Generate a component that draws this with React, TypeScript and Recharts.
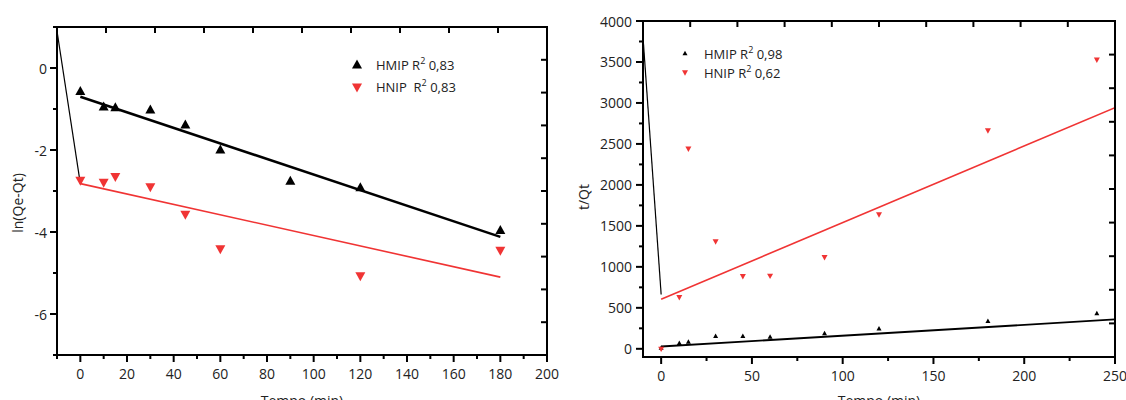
import React from 'react';
import { ComposedChart, XAxis, YAxis, Line, Scatter, Legend, Label } from 'recharts';

const FONT = '"Open Sans", "Noto Sans", sans-serif';
const INK = '#222';
const RED = '#f03434';

// ---- left panel: ln(Qe-Qt) vs tempo ----
const tempoHmipA = [0, 10, 15, 30, 45, 60, 90, 120, 180];
const hmipLn = [-0.57, -0.95, -0.97, -1.02, -1.39, -2.0, -2.76, -2.92, -3.96];
const tempoHnipA = [0, 10, 15, 30, 45, 60, 120, 180];
const hnipLn = [-2.74, -2.79, -2.65, -2.9, -3.57, -4.41, -5.07, -4.45];
const fitTempoA = [0, 180];
const hmipLnFit = [-0.7, -4.12];
const hnipLnFit = [-2.82, -5.1];
const strayTempoA = [-10, 0];
const strayLn = [0.9, -2.82];
const xTicksA = [-10, 0, 10, 20, 30, 40, 50, 60, 70, 80, 90, 100, 110, 120, 130, 140, 150, 160, 170, 180, 190, 200];
const yTicksA = [-7, -6, -5, -4, -3, -2, -1, 0, 1];

// ---- right panel: t/Qt vs tempo ----
const tempoB = [0, 10, 15, 30, 45, 60, 90, 120, 180, 240];
const hmipTQ = [10, 68, 85, 154, 154, 146, 187, 244, 337, 431];
const hnipTQ = [0, 630, 2442, 1310, 886, 891, 1118, 1640, 2665, 3528];
const fitTempoB = [0, 250];
const hmipTQFit = [28, 358];
const hnipTQFit = [605, 2943];
const strayTempoB = [-10, 0];
const strayTQ = [3805, 663];
const xTicksB = [0, 25, 50, 75, 100, 125, 150, 175, 200, 225, 250];
const yTicksB = [0, 250, 500, 750, 1000, 1250, 1500, 1750, 2000, 2250, 2500, 2750, 3000, 3250, 3500, 3750, 4000];

const pts = (xs: number[], ys: number[]) => xs.map((x, i) => ({ x, y: ys[i] }));

const upTri = (w: number, color: string) => (props: any) => {
  const { cx, cy } = props;
  if (cx == null || cy == null) return <g />;
  const h = w * 0.9;
  return <polygon points={`${cx},${cy - h * 0.6} ${cx - w / 2},${cy + h * 0.4} ${cx + w / 2},${cy + h * 0.4}`} fill={color} />;
};

const downTri = (w: number, color: string) => (props: any) => {
  const { cx, cy } = props;
  if (cx == null || cy == null) return <g />;
  const h = w * 0.9;
  return <polygon points={`${cx - w / 2},${cy - h * 0.4} ${cx + w / 2},${cy - h * 0.4} ${cx},${cy + h * 0.6}`} fill={color} />;
};

const xTick = (majorStep: number) => (props: any) => {
  const { x, y, payload } = props;
  const v = payload.value;
  const major = v % majorStep === 0 && v >= 0;
  return (
    <g>
      <line x1={x} x2={x} y1={y} y2={y + (major ? 7 : 4)} stroke="#000" strokeWidth={2} />
      {major && (
        <text x={x} y={y + 18} textAnchor="middle" dominantBaseline="central" fontSize={14} fontFamily={FONT} fill={INK}>
          {v}
        </text>
      )}
    </g>
  );
};

const yTick = (majorStep: number, gap: number) => (props: any) => {
  const { x, y, payload } = props;
  const v = payload.value;
  const major = v % majorStep === 0;
  return (
    <g>
      <line x1={x - (major ? 7 : 4)} x2={x} y1={y} y2={y} stroke="#000" strokeWidth={2} />
      {major && (
        <text x={x - 7 - gap} y={y} textAnchor="end" dominantBaseline="central" fontSize={14} fontFamily={FONT} fill={INK}>
          {v}
        </text>
      )}
    </g>
  );
};

const legendContent = (rows: { label: string; r2: string; up: boolean; color: string; size: number }[], rowH: number) => () => (
  <div style={{ fontFamily: FONT, fontSize: 13, color: INK }}>
    {rows.map((r) => (
      <div key={r.label} style={{ display: 'flex', alignItems: 'center', height: rowH, whiteSpace: 'pre' }}>
        <svg width={20} height={rowH} style={{ display: 'block' }}>
          {r.up
            ? upTri(r.size, r.color)({ cx: 10, cy: rowH / 2 })
            : downTri(r.size, r.color)({ cx: 10, cy: rowH / 2 })}
        </svg>
        <span style={{ marginLeft: 9 }}>
          {r.label}R<sup style={{ fontSize: 9, verticalAlign: 6, lineHeight: 0 }}>2</sup> {r.r2}
        </span>
      </div>
    ))}
  </div>
);

const axisTitle = (text: string, dx: number, dy: number) => (p: any) => {
  const vb = p.viewBox || { x: 0, y: 0, height: 0 };
  const cx = vb.x + dx;
  const cy = vb.y + vb.height / 2 + dy;
  return (
    <text x={cx} y={cy} transform={`rotate(-90 ${cx} ${cy})`} textAnchor="middle" dominantBaseline="central" fontFamily={FONT} fontSize={14} fill={INK}>
      {text}
    </text>
  );
};

// plot box outline with inward ticks on the top and right sides (ten equal divisions)
function Frame({ x, y, w, h }: { x: number; y: number; w: number; h: number }) {
  const divs = [1, 2, 3, 4, 5, 6, 7, 8, 9];
  return (
    <svg width={w + 4} height={h + 4} style={{ position: 'absolute', left: x - 2, top: y - 2, pointerEvents: 'none', overflow: 'visible' }}>
      <rect x={2} y={2} width={w} height={h} fill="none" stroke="#000" strokeWidth={2} />
      {divs.map((i) => (
        <line key={`t${i}`} x1={2 + (w * i) / 10} x2={2 + (w * i) / 10} y1={2} y2={8} stroke="#000" strokeWidth={2} />
      ))}
      {divs.map((i) => (
        <line key={`r${i}`} x1={2 + w - 6} x2={2 + w} y1={2 + (h * i) / 10} y2={2 + (h * i) / 10} stroke="#000" strokeWidth={2} />
      ))}
    </svg>
  );
}

function LeftPanel() {
  return (
    <div style={{ position: 'relative', width: 560, height: 400 }}>
      <ComposedChart width={560} height={400} margin={{ top: 27, right: 13, bottom: 15, left: 0 }}>
        <XAxis dataKey="x" type="number" domain={[-10, 200]} ticks={xTicksA} interval={0} height={30}
          tickSize={0} tickMargin={0} tickLine={false} tick={xTick(20)} axisLine={{ stroke: '#000', strokeWidth: 2 }} allowDataOverflow>
          <Label value="Tempo (min)" position="bottom" offset={11} style={{ fontFamily: FONT, fontSize: 14, fill: INK }} />
        </XAxis>
        <YAxis type="number" domain={[-7, 1]} ticks={yTicksA} interval={0} width={57}
          tickSize={0} tickMargin={0} tickLine={false} tick={yTick(2, 3)} axisLine={{ stroke: '#000', strokeWidth: 2 }} allowDataOverflow>
          <Label content={axisTitle('ln(Qe-Qt)', 17, 12)} />
        </YAxis>
        <Line data={pts(strayTempoA, strayLn)} dataKey="y" type="linear" stroke="#000" strokeWidth={1.2} dot={false} isAnimationActive={false} legendType="none" />
        <Line data={pts(fitTempoA, hmipLnFit)} dataKey="y" type="linear" stroke="#000" strokeWidth={2.5} dot={false} isAnimationActive={false} legendType="none" />
        <Line data={pts(fitTempoA, hnipLnFit)} dataKey="y" type="linear" stroke={RED} strokeWidth={1.6} dot={false} isAnimationActive={false} legendType="none" />
        <Scatter data={pts(tempoHmipA, hmipLn)} dataKey="y" name="HMIP" shape={upTri(10, '#000')} isAnimationActive={false} />
        <Scatter data={pts(tempoHnipA, hnipLn)} dataKey="y" name="HNIP" shape={downTri(10, RED)} isAnimationActive={false} />
        <Legend layout="vertical" align="center" verticalAlign="middle"
          wrapperStyle={{ left: 347, top: 54, width: 190, height: 44 }}
          content={legendContent([
            { label: 'HMIP ', r2: '0,83', up: true, color: '#000', size: 10 },
            { label: 'HNIP  ', r2: '0,83', up: false, color: RED, size: 10 },
          ], 22)} />
      </ComposedChart>
      <Frame x={57} y={27} w={490} h={328} />
    </div>
  );
}

function RightPanel() {
  return (
    <div style={{ position: 'relative', width: 566, height: 400 }}>
      <ComposedChart width={566} height={400} margin={{ top: 21, right: 11, bottom: 13, left: 0 }}>
        <XAxis dataKey="x" type="number" domain={[-10, 250]} ticks={xTicksB} interval={0} height={30}
          tickSize={0} tickMargin={0} tickLine={false} tick={xTick(50)} axisLine={{ stroke: '#000', strokeWidth: 2 }} allowDataOverflow>
          <Label value="Tempo (min)" position="bottom" offset={9} style={{ fontFamily: FONT, fontSize: 14, fill: INK }} />
        </XAxis>
        <YAxis type="number" domain={[-100, 4000]} ticks={yTicksB} interval={0} width={83}
          tickSize={0} tickMargin={0} tickLine={false} tick={yTick(500, 4)} axisLine={{ stroke: '#000', strokeWidth: 2 }} allowDataOverflow>
          <Label content={axisTitle('t/Qt', 23, 8)} />
        </YAxis>
        <Line data={pts(strayTempoB, strayTQ)} dataKey="y" type="linear" stroke="#000" strokeWidth={1.2} dot={false} isAnimationActive={false} legendType="none" />
        <Line data={pts(fitTempoB, hmipTQFit)} dataKey="y" type="linear" stroke="#000" strokeWidth={1.8} dot={false} isAnimationActive={false} legendType="none" />
        <Line data={pts(fitTempoB, hnipTQFit)} dataKey="y" type="linear" stroke={RED} strokeWidth={1.6} dot={false} isAnimationActive={false} legendType="none" />
        <Scatter data={pts(tempoB, hmipTQ)} dataKey="y" name="HMIP" shape={upTri(5, '#000')} isAnimationActive={false} />
        <Scatter data={pts(tempoB, hnipTQ)} dataKey="y" name="HNIP" shape={downTri(6, RED)} isAnimationActive={false} />
        <Legend layout="vertical" align="center" verticalAlign="middle"
          wrapperStyle={{ left: 115, top: 44, width: 200, height: 38 }}
          content={legendContent([
            { label: 'HMIP ', r2: '0,98', up: true, color: '#000', size: 5 },
            { label: 'HNIP ', r2: '0,62', up: false, color: RED, size: 6 },
          ], 19)} />
      </ComposedChart>
      <Frame x={83} y={21} w={472} h={336} />
    </div>
  );
}

export default function App() {
  return (
    <div style={{ position: 'absolute', left: 0, top: 0, width: 1126, height: 400, background: '#fff', overflow: 'hidden' }}>
      <div style={{ position: 'absolute', left: 0, top: 0 }}>
        <LeftPanel />
      </div>
      <div style={{ position: 'absolute', left: 560, top: 0 }}>
        <RightPanel />
      </div>
    </div>
  );
}
